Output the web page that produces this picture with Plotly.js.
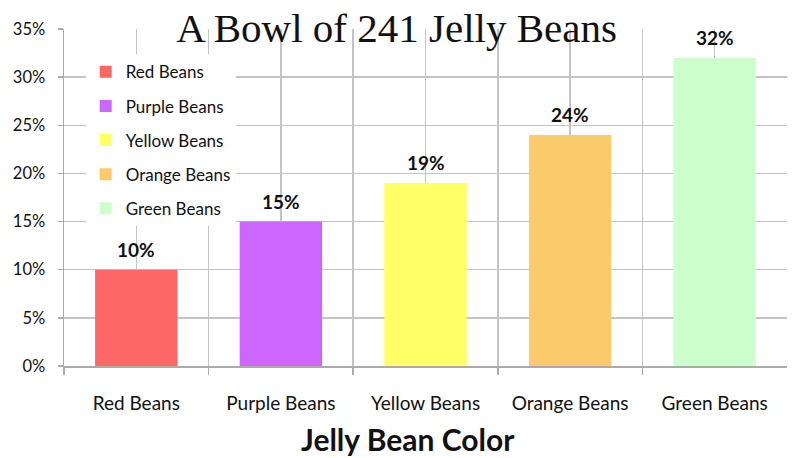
<!DOCTYPE html>
<html>
<head>
<meta charset="utf-8">
<script src="https://cdn.plot.ly/plotly-3.0.1.min.js"></script>
<style>html,body{margin:0;padding:0;background:#fff}#chart{width:793px;height:458px}</style>
</head>
<body>
<div id="chart"></div>
<script>
var categories = ["Red Beans", "Purple Beans", "Yellow Beans", "Orange Beans", "Green Beans"];
var percents = [10, 15, 19, 24, 32];
var colors = ["#FF6666", "#CC66FF", "#FFFF66", "#F9CB6B", "#CCFFCC"];
var yTicks = [0, 5, 10, 15, 20, 25, 30, 35];
var xTitle = "Jelly Bean Color";

var traces = categories.map(function (c, i) {
  return {
    type: "bar",
    name: c,
    legendgroup: c,
    x: [i],
    y: [percents[i]],
    width: 0.57,
    marker: {color: colors[i], line: {width: 0}},
    hoverinfo: "none"
  };
});

var annotations = categories.map(function (c, i) {
  return {
    x: i, y: percents[i], xref: "x", yref: "y",
    text: percents[i] + "%", showarrow: false,
    yanchor: "bottom", yshift: 7,
    font: {family: "Lato, sans-serif", size: 19, color: "#111", weight: "bold"}
  };
});
annotations.push({
  xref: "paper", yref: "paper", x: 0.476, y: -0.218,
  xanchor: "center", yanchor: "middle", showarrow: false,
  text: "<b>" + xTitle + "</b>",
  font: {family: "Lato, sans-serif", size: 30, color: "#111"}
});

var idx = categories.map(function (c, i) { return i; });
var bounds = categories.map(function (c, i) { return i - 0.5; });

var layout = {
  width: 793, height: 458,
  margin: {l: 64, r: 6, t: 29, b: 92},
  paper_bgcolor: "#fff", plot_bgcolor: "#fff",
  showlegend: true,
  barmode: "overlay",
  annotations: annotations,
  title: {
    text: "A Bowl of 241 Jelly Beans",
    font: {family: "Liberation Serif, serif", size: 41, color: "#111"},
    x: 0.5, xanchor: "center", y: 0.94, yanchor: "middle"
  },
  font: {family: "Lato, sans-serif", color: "#111"},
  xaxis: {
    type: "linear",
    range: [-0.5, 4.5],
    tickmode: "array", tickvals: idx, ticktext: categories,
    ticks: "", showgrid: true, gridcolor: "#c4c4c4", gridwidth: 1.5,
    tickfont: {family: "Lato, sans-serif", size: 19, color: "#111"},
    minor: {tickmode: "array", tickvals: bounds, ticks: "outside", ticklen: 7, tickcolor: "#aaa", tickwidth: 1.5, showgrid: true, gridcolor: "#c4c4c4", gridwidth: 1.5},
    showline: true, linecolor: "#aaa", linewidth: 1.5,
    zeroline: false,
    ticklabelstandoff: 20
  },
  yaxis: {
    range: [0, 35],
    tickmode: "array", tickvals: yTicks, ticktext: yTicks.map(function (v) { return v + "%"; }),
    ticks: "outside", ticklen: 5, tickcolor: "#aaa", tickwidth: 1.5,
    showgrid: true, gridcolor: "#c4c4c4", gridwidth: 1.5,
    showline: true, linecolor: "#aaa", linewidth: 1.5,
    zeroline: false,
    ticklabelstandoff: 9,
    tickfont: {family: "Lato, sans-serif", size: 16.5, color: "#111"}
  },
  legend: {
    x: 0.03, y: 0.925, xanchor: "left", yanchor: "top",
    bgcolor: "#fff", borderwidth: 0,
    traceorder: "grouped", tracegroupgap: 9,
    font: {family: "Lato, sans-serif", size: 17, color: "#111"}
  }
};

Plotly.newPlot("chart", traces, layout, {staticPlot: true, displayModeBar: false});
</script>
</body>
</html>
